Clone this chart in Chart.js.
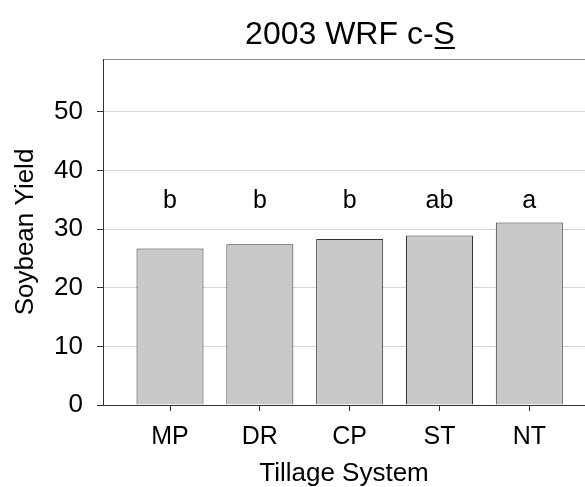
<!DOCTYPE html>
<html>
<head>
<meta charset="utf-8">
<script src="https://cdn.jsdelivr.net/npm/chart.js@4/dist/chart.umd.min.js"></script>
<style>
  html, body { margin: 0; padding: 0; background: #fff; }
  #wrap { width: 585px; height: 487px; }
</style>
</head>
<body>
<div id="wrap"><canvas id="chart" width="585" height="487"></canvas></div>
<script>
// data
const categories = ["MP", "DR", "CP", "ST", "NT"];
const yieldValues = [26.7, 27.4, 28.3, 28.9, 31.1];
const letters = ["b", "b", "b", "ab", "a"];
const yTicks = [0, 10, 20, 30, 40, 50];

const FONT = "'Liberation Sans', Arial, sans-serif";
const LETTER_Y = 33.6; // value where the letter baselines sit

// title with the underlined S, plus the mean-separation letters
const extras = {
  id: "extras",
  afterDatasetsDraw(chart) {
    const ctx = chart.ctx;
    const x = chart.scales.x, y = chart.scales.y;
    ctx.save();
    ctx.fillStyle = "#000";
    ctx.textAlign = "center";
    ctx.textBaseline = "alphabetic";
    ctx.font = "25px " + FONT;
    letters.forEach((t, i) => {
      ctx.fillText(t, x.getPixelForValue(i), y.getPixelForValue(LETTER_Y));
    });

    // title
    const main = "2003 WRF c-", last = "S";
    ctx.font = "32px " + FONT;
    const w1 = ctx.measureText(main).width, w2 = ctx.measureText(last).width;
    const cx = 350, by = 44;
    const left = cx - (w1 + w2) / 2;
    ctx.textAlign = "left";
    ctx.fillText(main, left, by);
    ctx.fillText(last, left + w1, by);
    ctx.fillRect(left + w1 + 1, by + 3, w2 - 1, 2);
    ctx.restore();
  }
};

new Chart(document.getElementById("chart"), {
  type: "bar",
  data: {
    datasets: [{
      data: yieldValues.map((v, i) => ({ x: i, y: v })),
      backgroundColor: "#c9c9c9",
      borderColor: "#333",
      borderWidth: 1,
      barPercentage: 0.746,
      categoryPercentage: 1
    }]
  },
  options: {
    responsive: false,
    animation: false,
    layout: { padding: { top: 59, left: 0, right: 0, bottom: 0 } },
    plugins: { legend: { display: false }, tooltip: { enabled: false }, title: { display: false } },
    scales: {
      x: {
        type: "linear",
        min: -0.746,
        max: 4.62,
        offset: false,
        afterBuildTicks: s => { s.ticks = categories.map((c, i) => ({ value: i })); },
        afterFit: s => { s.height = 82; },
        ticks: {
          callback: v => categories[v],
          color: "#000",
          font: { family: FONT, size: 25 },
          padding: 11,
          maxRotation: 0,
          autoSkip: false
        },
        grid: { offset: false, drawOnChartArea: false, tickLength: 6, tickColor: "#333" },
        border: { color: "#333" },
        title: {
          display: true,
          text: "Tillage System",
          color: "#000",
          font: { family: FONT, size: 26, lineHeight: 1.0 },
          padding: { top: 0, bottom: 0 }
        }
      },
      y: {
        min: 0,
        max: 59,
        afterBuildTicks: s => { s.ticks = yTicks.concat([59]).map(v => ({ value: v })); },
        afterFit: s => { s.width = 103; },
        ticks: {
          callback: v => (yTicks.includes(v) ? String(v) : ""),
          color: "#000",
          font: { family: FONT, size: 26 },
          padding: 14
        },
        grid: {
          color: c => (c.tick && c.tick.value === 59 ? "#8a8a8a" : (c.tick && c.tick.value === 0 ? "rgba(0,0,0,0)" : "#d6d6d6")),
          tickColor: c => (c.tick && c.tick.value === 59 ? "rgba(0,0,0,0)" : "#333"),
          tickLength: 6
        },
        border: { color: "#333" },
        title: {
          display: true,
          text: "Soybean Yield",
          color: "#000",
          font: { family: FONT, size: 26 },
          padding: { top: 10, bottom: 0 }
        }
      }
    }
  },
  plugins: [extras]
});
</script>
</body>
</html>
